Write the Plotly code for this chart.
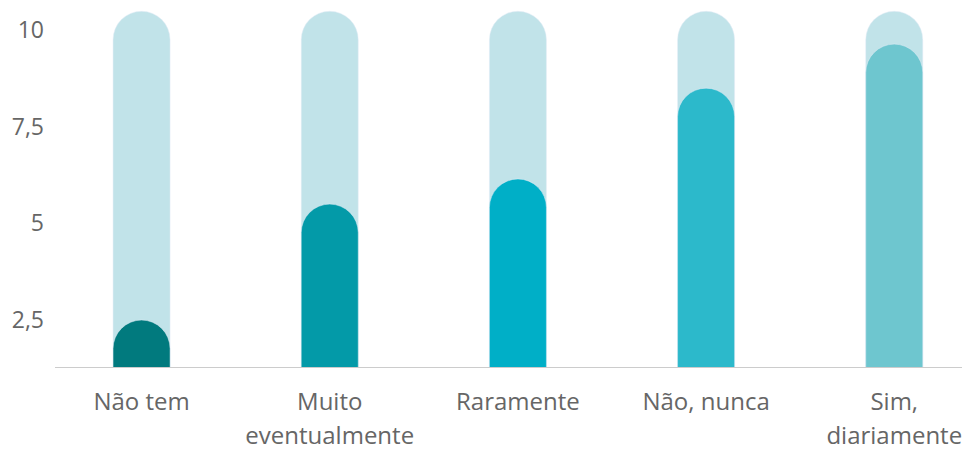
import plotly.graph_objects as go

categories = ["Não tem", "Muito<br>eventualmente", "Raramente", "Não, nunca", "Sim,<br>diariamente"]
values = [2.5, 5.5, 6.15, 8.5, 9.64]
background = [10.49, 10.49, 10.49, 10.49, 10.49]
colors = ["#017a7e", "#039aa8", "#00afc7", "#2cb9cb", "#6ec6cf"]
bg_color = "#c1e3e9"
tick_vals = [2.5, 5, 7.5, 10]
tick_text = ["2,5", "5", "7,5", "10"]

x = list(range(len(categories)))
x_range = [-0.46, 4.36]
y_range = [1.285, 10.6]

styled_categories = [
    "<br>".join(f"<span style='font-size:24px'>{part}</span>" for part in c.split("<br>"))
    for c in categories
]

fig = go.Figure()
fig.add_trace(go.Bar(x=x, y=background, marker=dict(color=bg_color, cornerradius="50%"),
                     width=0.303, hoverinfo="skip", xaxis="x", yaxis="y"))
fig.add_trace(go.Bar(x=x, y=values, marker=dict(color=colors, cornerradius="50%"),
                     width=0.303, xaxis="x2", yaxis="y2"))

fig.update_layout(
    width=967, height=450,
    margin=dict(l=55, r=5, t=7, b=83),
    showlegend=False,
    plot_bgcolor="white", paper_bgcolor="white",
    font=dict(family="Open Sans", size=23, color="#666666"),
    xaxis=dict(
        tickmode="array", tickvals=x, ticktext=styled_categories,
        range=x_range, automargin=False,
        showline=True, linecolor="#cccccc", linewidth=1,
        showgrid=False, zeroline=False, ticks="",
        ticklabelstandoff=11,
        tickfont=dict(size=26, color="#666666"),
    ),
    yaxis=dict(
        tickmode="array", tickvals=tick_vals, ticktext=tick_text,
        range=y_range, automargin=False,
        showline=False, showgrid=False, zeroline=False, ticks="",
        ticklabelstandoff=10,
        tickfont=dict(size=23, color="#666666"),
    ),
    xaxis2=dict(overlaying="x", range=x_range, visible=False, automargin=False),
    yaxis2=dict(overlaying="y", range=y_range, visible=False, automargin=False),
)

fig.write_html("out.html", config={"displayModeBar": False},
               post_script="document.body.style.margin='0';document.body.style.overflow='hidden';")
